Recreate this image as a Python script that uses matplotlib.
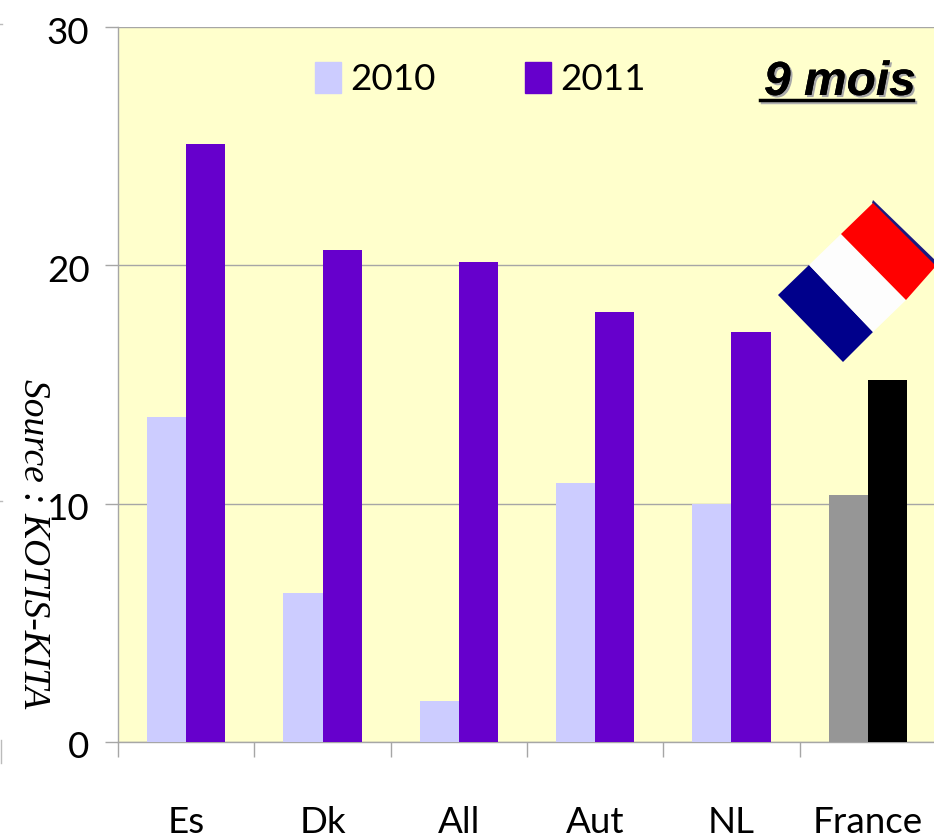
import numpy as np
import matplotlib
matplotlib.use("Agg")
import matplotlib.pyplot as plt
import matplotlib.patheffects as pe
from matplotlib.lines import Line2D
from matplotlib.patches import Patch, Polygon
from matplotlib.transforms import ScaledTranslation

categories = ['Es', 'Dk', 'All', 'Aut', 'NL', 'France']
values_2010 = [13.65, 6.25, 1.7, 10.85, 10.0, 10.35]
values_2011 = [25.1, 20.65, 20.15, 18.05, 17.2, 15.2]
colors_2010 = ['#CCCCFF'] * 5 + ['#969696']
colors_2011 = ['#6600CC'] * 5 + ['#000000']
y_ticks = [0, 10, 20, 30]

W, H = 934, 838
GRAY = '#A6A6A6'
LABEL_FONT = 'Lato'
LABEL_SIZE = 26.5

fig = plt.figure(figsize=(W / 100, H / 100), dpi=100, facecolor='white')
ax = fig.add_axes([118 / W, 1 - 742 / H, 818 / W, 715 / H], facecolor='#FFFFCC')


# pixel position in the picture -> figure fraction
def px(x, y):
    return (x / W, 1 - y / H)


x = np.arange(len(categories)) + 0.5
bar_w = 0.287
ax.bar(x - bar_w / 2, values_2010, bar_w, color=colors_2010, zorder=3)
ax.bar(x + bar_w / 2, values_2011, bar_w, color=colors_2011, zorder=3)

ax.set_xlim(0, len(categories))
ax.set_ylim(0, 30)
ax.set_yticks(y_ticks)
ax.set_yticklabels([str(v) for v in y_ticks], fontsize=LABEL_SIZE, family=LABEL_FONT)
ax.set_xticks(np.arange(len(categories) + 1))
ax.set_xticklabels([])
ax.set_xticks(x, minor=True)
ax.set_xticklabels(categories, minor=True, fontsize=LABEL_SIZE, family=LABEL_FONT)
ax.tick_params(axis='x', which='minor', length=0, pad=46)
ax.tick_params(axis='x', which='major', length=11, width=1, color=GRAY)
ax.tick_params(axis='y', length=9.5, width=1, color=GRAY, pad=11)
ax.grid(axis='y', color=GRAY, lw=1, zorder=1)
ax.set_axisbelow(True)
for side in ['top', 'right']:
    ax.spines[side].set_visible(False)
for side in ['left', 'bottom']:
    ax.spines[side].set_color(GRAY)
    ax.spines[side].set_linewidth(1)

# y labels sit a little below their ticks
nudge = ScaledTranslation(0, -3 / 100, fig.dpi_scale_trans)
for label in ax.get_yticklabels():
    label.set_transform(label.get_transform() + nudge)

handles = [Patch(color='#CCCCFF', label='2010'), Patch(color='#6600CC', label='2011')]
ax.legend(handles=handles, ncol=2, frameon=False, loc='upper left',
          bbox_to_anchor=((315 - 118) / 818, 1 - 35 / 715),
          borderaxespad=0, borderpad=0,
          prop={'family': LABEL_FONT, 'size': LABEL_SIZE},
          handlelength=0.71, handleheight=0.9, handletextpad=0.25, columnspacing=2.42)

# title with shadow and underline
fig.text(*px(764, 95), '9 mois', fontsize=34.5, family='Liberation Sans', weight='bold',
         style='italic', color='black', ha='left', va='baseline',
         path_effects=[pe.withSimplePatchShadow(offset=(1.5, -1.5), shadow_rgbFace='#A8A8A8', alpha=1),
                       pe.Normal()])
fig.add_artist(Line2D(*zip(px(762, 102.5), px(915, 102.5)), color='#B0B0B0', lw=2.5))
fig.add_artist(Line2D(*zip(px(760, 100.5), px(913, 100.5)), color='black', lw=2.5))

fig.text(*px(33, 544), 'Source : KOTIS-KITA', rotation=270, fontsize=27,
         family='Liberation Serif', style='italic', ha='center', va='center')

# tilted french flag
flag_parts = [
    ([(873, 200), (937, 262), (935, 266), (872, 203)], '#1A1A80'),
    ([(778, 295), (809, 265), (873, 332), (843, 362)], '#00008B'),
    ([(809, 265), (841, 234), (906, 300), (873, 332)], '#FDFDFD'),
    ([(841, 234), (873, 203), (936, 266), (906, 300)], '#FF0000'),
]
for corners, color in flag_parts:
    fig.add_artist(Polygon([px(*c) for c in corners], closed=True, facecolor=color,
                           edgecolor='none', transform=fig.transFigure))

# scraps of the neighbouring slide at the left edge
for y0 in [24, 501]:
    fig.add_artist(Line2D(*zip(px(0, y0), px(2, y0)), color='#BBBBBB', lw=1))
fig.add_artist(Line2D(*zip(px(1, 740), px(1, 763)), color='#BBBBBB', lw=1))

plt.savefig('out.png', dpi=100, facecolor='white')
